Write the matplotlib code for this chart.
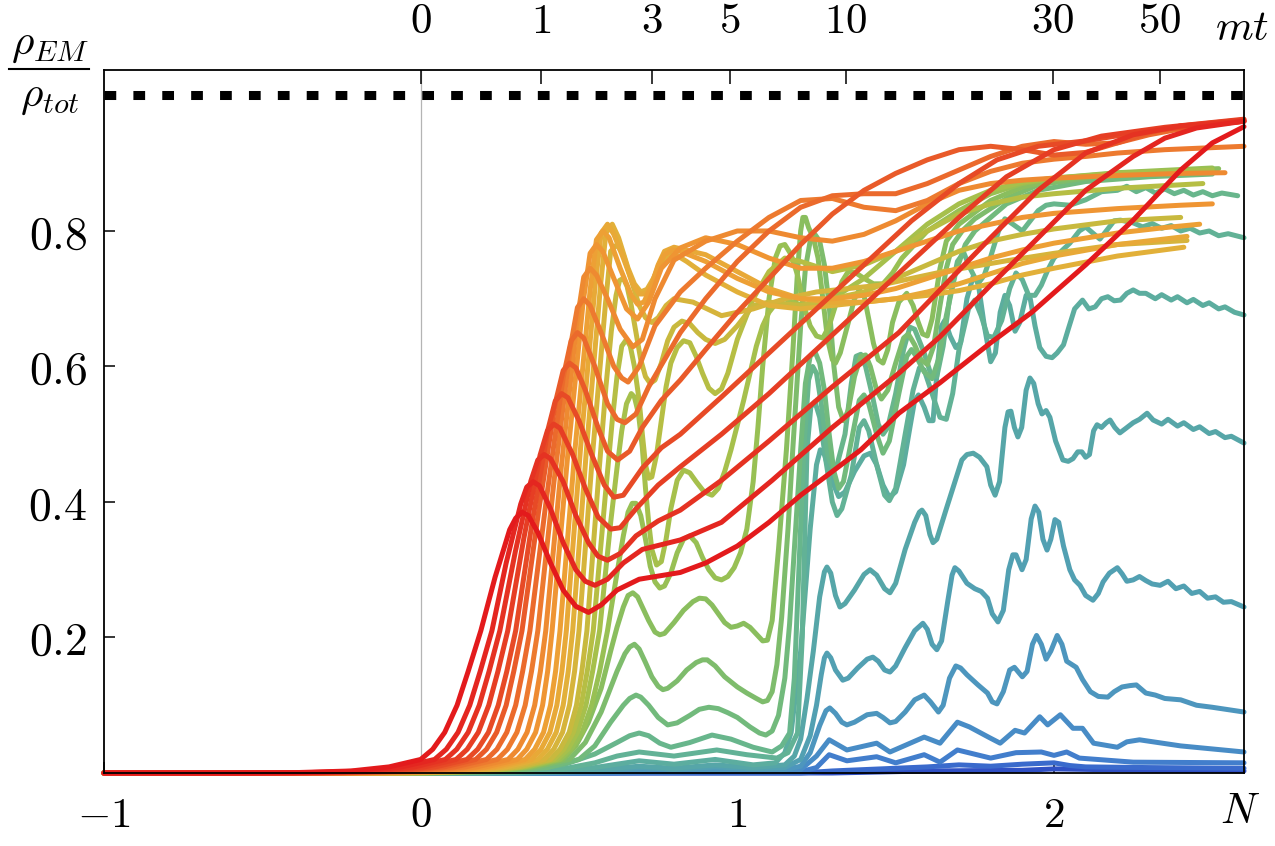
import matplotlib
matplotlib.use("Agg")
import matplotlib.pyplot as plt
import numpy as np
from matplotlib.lines import Line2D

plt.rcParams['mathtext.fontset'] = 'cm'
plt.rcParams['font.family'] = ['DejaVu Serif']

# ---------------- data (N, rho_EM/rho_tot) ----------------
r1 = [(-1.0,0),(-0.6,0),(-0.4,0.0005),(-0.22,0.003),(-0.1,0.009),(0.0,0.02),(0.038,0.035),(0.076,0.06),(0.115,0.10),(0.15,0.15),(0.19,0.21),(0.235,0.289),(0.281,0.359),(0.30,0.376),(0.32,0.385),(0.34,0.38),(0.37,0.355),(0.41,0.31),(0.45,0.27),(0.49,0.246),(0.53,0.237),(0.57,0.248),(0.62,0.27),(0.69,0.286),(0.82,0.296),(0.9,0.31),(1.0,0.335),(1.1,0.37),(1.2,0.41),(1.3,0.445),(1.39,0.477),(1.51,0.531),(1.64,0.576),(1.8,0.635),(1.93,0.68),(2.1,0.75),(2.25,0.816),(2.4,0.89),(2.5,0.93),(2.6,0.954)]
r2 = [(-1.0,0),(-0.6,0),(-0.36,0.0005),(-0.18,0.003),(-0.06,0.009),(0.044,0.02),(0.081,0.035),(0.118,0.06),(0.155,0.10),(0.188,0.15),(0.225,0.21),(0.27,0.31),(0.316,0.397),(0.335,0.422),(0.355,0.43),(0.375,0.424),(0.41,0.39),(0.45,0.34),(0.49,0.30),(0.52,0.283),(0.55,0.277),(0.59,0.286),(0.64,0.31),(0.7,0.33),(0.82,0.344),(0.95,0.37),(1.11,0.432),(1.3,0.51),(1.51,0.59),(1.64,0.644),(1.8,0.72),(1.95,0.79),(2.1,0.86),(2.25,0.91),(2.35,0.937),(2.45,0.952),(2.6,0.962)]
r3 = [(-1.0,0),(-0.6,0),(-0.32,0.0005),(-0.14,0.003),(-0.02,0.009),(0.078,0.02),(0.114,0.035),(0.15,0.06),(0.185,0.10),(0.216,0.15),(0.25,0.21),(0.299,0.327),(0.348,0.431),(0.37,0.462),(0.39,0.47),(0.41,0.464),(0.45,0.43),(0.49,0.38),(0.53,0.34),(0.56,0.32),(0.59,0.314),(0.63,0.324),(0.68,0.35),(0.75,0.372),(0.82,0.388),(0.95,0.432),(1.1,0.49),(1.3,0.57),(1.51,0.65),(1.64,0.713),(1.8,0.79),(1.95,0.86),(2.1,0.915),(2.25,0.942),(2.4,0.955),(2.6,0.962)]
r4 = [(-1.0,0),(-0.5,0),(-0.29,0.0005),(-0.11,0.003),(0.012,0.009),(0.112,0.02),(0.147,0.035),(0.182,0.06),(0.215,0.10),(0.244,0.15),(0.275,0.21),(0.326,0.347),(0.377,0.469),(0.40,0.505),(0.42,0.515),(0.44,0.509),(0.48,0.47),(0.52,0.42),(0.56,0.378),(0.6,0.36),(0.63,0.362),(0.68,0.39),(0.75,0.425),(0.82,0.452),(0.95,0.50),(1.1,0.56),(1.25,0.625),(1.4,0.69),(1.55,0.755),(1.7,0.82),(1.85,0.88),(2.0,0.92),(2.15,0.94),(2.35,0.953),(2.6,0.965)]
r5 = [(-1.0,0),(-0.5,0),(-0.25,0.0005),(-0.07,0.003),(0.046,0.009),(0.146,0.02),(0.18,0.035),(0.214,0.06),(0.245,0.10),(0.272,0.15),(0.30,0.21),(0.351,0.367),(0.402,0.507),(0.425,0.549),(0.445,0.56),(0.465,0.554),(0.5,0.52),(0.54,0.47),(0.58,0.425),(0.61,0.407),(0.64,0.41),(0.7,0.45),(0.76,0.48),(0.82,0.50),(0.95,0.555),(1.1,0.62),(1.25,0.685),(1.4,0.75),(1.55,0.815),(1.7,0.87),(1.82,0.905),(1.95,0.925),(2.1,0.933),(2.3,0.948),(2.6,0.962)]
o6 = [(-1.0,0),(-0.5,0),(-0.22,0.0005),(-0.05,0.003),(0.074,0.009),(0.174,0.02),(0.208,0.035),(0.24,0.06),(0.27,0.10),(0.294,0.15),(0.32,0.21),(0.373,0.388),(0.425,0.546),(0.45,0.594),(0.47,0.605),(0.49,0.598),(0.52,0.565),(0.56,0.51),(0.59,0.475),(0.622,0.462),(0.66,0.475),(0.7,0.51),(0.76,0.55),(0.82,0.58),(0.9,0.625),(1.0,0.68),(1.1,0.73),(1.2,0.78),(1.3,0.825),(1.4,0.86),(1.5,0.885),(1.6,0.905),(1.7,0.92),(1.8,0.925),(1.9,0.92),(2.0,0.912),(2.1,0.916),(2.2,0.93),(2.3,0.945),(2.4,0.955),(2.6,0.964)]
o7 = [(-1.0,0),(-0.4,0),(-0.2,0.0005),(-0.02,0.003),(0.108,0.009),(0.208,0.02),(0.241,0.035),(0.272,0.06),(0.30,0.10),(0.322,0.15),(0.345,0.21),(0.398,0.408),(0.45,0.584),(0.475,0.638),(0.495,0.65),(0.515,0.642),(0.55,0.6),(0.59,0.545),(0.62,0.522),(0.645,0.517),(0.68,0.53),(0.72,0.57),(0.82,0.65),(0.9,0.70),(1.0,0.755),(1.1,0.8),(1.2,0.835),(1.3,0.852),(1.4,0.855),(1.5,0.855),(1.6,0.87),(1.7,0.89),(1.8,0.91),(1.9,0.925),(2.0,0.932),(2.1,0.928),(2.2,0.93),(2.3,0.942),(2.45,0.955),(2.6,0.962)]
o8 = [(-1.0,0),(-0.4,0),(-0.16,0.0005),(0.02,0.003),(0.142,0.009),(0.242,0.02),(0.274,0.035),(0.304,0.06),(0.33,0.10),(0.35,0.15),(0.37,0.21),(0.421,0.43),(0.472,0.627),(0.495,0.687),(0.515,0.70),(0.535,0.69),(0.57,0.65),(0.61,0.6),(0.635,0.583),(0.655,0.577),(0.69,0.6),(0.74,0.66),(0.82,0.71),(0.9,0.745),(1.0,0.785),(1.1,0.82),(1.2,0.845),(1.3,0.848),(1.4,0.835),(1.5,0.83),(1.6,0.845),(1.7,0.87),(1.8,0.888),(1.9,0.9),(2.0,0.906),(2.1,0.91),(2.2,0.915),(2.35,0.92),(2.6,0.925)]
o9 = [(-1.0,0),(-0.3,0),(-0.12,0.0005),(0.06,0.003),(0.176,0.009),(0.276,0.02),(0.307,0.035),(0.336,0.06),(0.36,0.10),(0.378,0.15),(0.395,0.21),(0.444,0.451),(0.493,0.665),(0.515,0.732),(0.535,0.745),(0.555,0.735),(0.59,0.70),(0.63,0.655),(0.67,0.629),(0.7,0.64),(0.74,0.7),(0.8,0.757),(0.9,0.785),(1.0,0.80),(1.1,0.80),(1.2,0.79),(1.3,0.785),(1.4,0.795),(1.5,0.815),(1.6,0.84),(1.7,0.86),(1.8,0.87),(1.9,0.875),(2.0,0.878),(2.2,0.882),(2.4,0.885),(2.54,0.886)]
o10 = [(-1.0,0),(-0.3,0),(-0.09,0.0005),(0.09,0.003),(0.205,0.009),(0.305,0.02),(0.335,0.035),(0.363,0.06),(0.385,0.10),(0.401,0.15),(0.415,0.21),(0.464,0.467),(0.513,0.695),(0.535,0.767),(0.555,0.78),(0.575,0.77),(0.61,0.73),(0.65,0.685),(0.685,0.67),(0.72,0.695),(0.76,0.745),(0.82,0.775),(0.9,0.79),(1.0,0.78),(1.1,0.76),(1.2,0.745),(1.3,0.745),(1.4,0.755),(1.5,0.77),(1.6,0.785),(1.7,0.8),(1.8,0.81),(1.9,0.82),(2.0,0.826),(2.2,0.833),(2.4,0.838),(2.5,0.84)]
y11 = [(-1.0,0),(-0.3,0),(-0.07,0.0005),(0.11,0.003),(0.23,0.009),(0.33,0.02),(0.36,0.035),(0.388,0.06),(0.41,0.10),(0.426,0.15),(0.44,0.21),(0.487,0.476),(0.535,0.712),(0.555,0.787),(0.575,0.80),(0.595,0.79),(0.63,0.745),(0.665,0.705),(0.685,0.692),(0.705,0.695),(0.73,0.72),(0.75,0.748),(0.77,0.765),(0.795,0.772),(0.82,0.77),(0.9,0.755),(1.0,0.73),(1.1,0.71),(1.2,0.70),(1.3,0.70),(1.4,0.705),(1.5,0.715),(1.6,0.73),(1.7,0.745),(1.8,0.76),(1.9,0.772),(2.0,0.782),(2.2,0.797),(2.35,0.805),(2.46,0.81)]
y12 = [(-1.0,0),(-0.3,0),(-0.05,0.0005),(0.13,0.003),(0.25,0.009),(0.35,0.02),(0.38,0.035),(0.408,0.06),(0.43,0.10),(0.446,0.15),(0.46,0.21),(0.505,0.48),(0.551,0.72),(0.57,0.797),(0.59,0.81),(0.61,0.795),(0.64,0.76),(0.67,0.722),(0.69,0.707),(0.71,0.707),(0.73,0.722),(0.75,0.75),(0.77,0.77),(0.8,0.776),(0.9,0.765),(1.0,0.74),(1.1,0.715),(1.2,0.70),(1.3,0.695),(1.4,0.695),(1.5,0.70),(1.6,0.71),(1.7,0.722),(1.8,0.737),(1.9,0.752),(2.0,0.763),(2.2,0.78),(2.42,0.792)]
y13 = [(-1.0,0),(-0.3,0),(-0.03,0.0005),(0.15,0.003),(0.27,0.009),(0.37,0.02),(0.40,0.035),(0.428,0.06),(0.45,0.10),(0.466,0.15),(0.48,0.21),(0.524,0.48),(0.568,0.72),(0.585,0.797),(0.605,0.81),(0.625,0.79),(0.655,0.745),(0.675,0.722),(0.695,0.71),(0.715,0.714),(0.735,0.73),(0.755,0.75),(0.78,0.765),(0.805,0.765),(0.84,0.755),(0.9,0.735),(1.0,0.71),(1.1,0.69),(1.2,0.685),(1.3,0.69),(1.4,0.695),(1.5,0.70),(1.6,0.705),(1.7,0.712),(1.8,0.722),(1.9,0.735),(2.0,0.745),(2.2,0.763),(2.41,0.776)]
y14 = [(-1.0,0),(-0.3,0),(-0.01,0.0005),(0.17,0.003),(0.29,0.009),(0.39,0.02),(0.42,0.035),(0.448,0.06),(0.47,0.10),(0.486,0.15),(0.50,0.21),(0.542,0.466),(0.584,0.695),(0.60,0.77),(0.62,0.78),(0.64,0.765),(0.67,0.72),(0.69,0.69),(0.71,0.672),(0.73,0.665),(0.75,0.672),(0.775,0.69),(0.8,0.70),(0.86,0.695),(0.95,0.675),(1.05,0.685),(1.15,0.70),(1.25,0.71),(1.35,0.715),(1.45,0.72),(1.55,0.73),(1.65,0.74),(1.75,0.748),(1.85,0.756),(2.0,0.767),(2.2,0.78),(2.42,0.786)]
yg15 = [(-1.0,0),(-0.3,0),(0.01,0.0005),(0.19,0.003),(0.31,0.009),(0.41,0.02),(0.44,0.035),(0.469,0.06),(0.492,0.10),(0.509,0.15),(0.525,0.21),(0.563,0.444),(0.585,0.57),(0.602,0.652),(0.617,0.705),(0.628,0.727),(0.64,0.73),(0.652,0.718),(0.665,0.69),(0.68,0.65),(0.695,0.61),(0.71,0.585),(0.725,0.575),(0.74,0.58),(0.76,0.605),(0.78,0.638),(0.8,0.658),(0.825,0.667),(0.85,0.663),(0.875,0.65),(0.9,0.64),(0.93,0.634),(0.96,0.64),(1.0,0.66),(1.05,0.69),(1.1,0.695),(1.2,0.69),(1.3,0.70),(1.4,0.71),(1.5,0.73),(1.6,0.75),(1.7,0.77),(1.8,0.785),(1.9,0.795),(2.0,0.803),(2.2,0.815),(2.4,0.82)]
yg16 = [(-1.0,0),(-0.3,0),(0.02,0.0005),(0.2,0.003),(0.32,0.009),(0.42,0.02),(0.452,0.035),(0.482,0.06),(0.507,0.10),(0.526,0.15),(0.545,0.21),(0.582,0.404),(0.605,0.52),(0.62,0.585),(0.635,0.63),(0.65,0.64),(0.662,0.63),(0.675,0.6),(0.69,0.55),(0.70,0.50),(0.71,0.455),(0.72,0.435),(0.73,0.437),(0.745,0.47),(0.76,0.52),(0.775,0.57),(0.79,0.605),(0.81,0.628),(0.83,0.638),(0.85,0.635),(0.87,0.615),(0.89,0.59),(0.91,0.568),(0.93,0.56),(0.95,0.567),(0.97,0.59),(1.0,0.64),(1.05,0.70),(1.1,0.74),(1.15,0.76),(1.2,0.755),(1.3,0.74),(1.4,0.75),(1.5,0.77),(1.6,0.80),(1.7,0.825),(1.8,0.84),(1.9,0.85),(2.0,0.855),(2.2,0.863),(2.47,0.87)]
yg17 = [(-1.0,0),(-0.2,0),(0.03,0.0005),(0.21,0.003),(0.33,0.009),(0.43,0.02),(0.465,0.035),(0.495,0.06),(0.522,0.10),(0.543,0.15),(0.565,0.21),(0.6,0.37),(0.62,0.45),(0.635,0.505),(0.65,0.545),(0.665,0.56),(0.675,0.555),(0.688,0.53),(0.70,0.48),(0.71,0.42),(0.72,0.37),(0.73,0.33),(0.745,0.307),(0.76,0.312),(0.775,0.345),(0.79,0.39),(0.81,0.432),(0.83,0.447),(0.85,0.443),(0.87,0.43),(0.895,0.415),(0.92,0.41),(0.94,0.42),(0.96,0.445),(0.98,0.477),(1.02,0.55),(1.06,0.63),(1.08,0.66),(1.1,0.68),(1.125,0.695),(1.15,0.70),(1.185,0.693),(1.22,0.69),(1.26,0.693),(1.3,0.70),(1.4,0.73),(1.5,0.77),(1.6,0.81),(1.7,0.84),(1.8,0.86),(1.9,0.872),(2.0,0.878),(2.2,0.885),(2.5,0.89)]
yg18 = [(-1.0,0),(-0.2,0),(0.04,0.0005),(0.22,0.003),(0.34,0.009),(0.44,0.02),(0.475,0.035),(0.51,0.06),(0.54,0.10),(0.565,0.15),(0.59,0.21),(0.62,0.295),(0.64,0.35),(0.655,0.385),(0.668,0.398),(0.68,0.398),(0.695,0.38),(0.71,0.345),(0.725,0.305),(0.74,0.282),(0.755,0.273),(0.77,0.276),(0.79,0.295),(0.81,0.325),(0.83,0.345),(0.85,0.35),(0.87,0.34),(0.89,0.318),(0.91,0.30),(0.93,0.288),(0.95,0.285),(0.97,0.29),(0.99,0.303),(1.01,0.325),(1.03,0.36),(1.05,0.43),(1.065,0.51),(1.08,0.6),(1.1,0.7),(1.12,0.76),(1.135,0.778),(1.15,0.78),(1.17,0.765),(1.19,0.735),(1.21,0.69),(1.23,0.66),(1.25,0.645),(1.27,0.642),(1.29,0.66),(1.31,0.69),(1.33,0.725),(1.35,0.74),(1.375,0.738),(1.4,0.73),(1.43,0.722),(1.46,0.722),(1.49,0.738),(1.52,0.76),(1.6,0.80),(1.7,0.83),(1.8,0.855),(1.9,0.87),(2.0,0.878),(2.2,0.886),(2.5,0.893)]
g19 = [(-1.0,0),(-0.2,0),(0.06,0.0005),(0.24,0.003),(0.35,0.009),(0.45,0.02),(0.49,0.04),(0.53,0.075),(0.57,0.125),(0.6,0.18),(0.62,0.215),(0.64,0.245),(0.655,0.262),(0.67,0.266),(0.685,0.26),(0.70,0.245),(0.72,0.225),(0.74,0.208),(0.755,0.204),(0.77,0.206),(0.8,0.222),(0.83,0.24),(0.86,0.253),(0.88,0.258),(0.9,0.257),(0.92,0.248),(0.94,0.235),(0.96,0.222),(0.98,0.215),(1.0,0.217),(1.02,0.221),(1.04,0.215),(1.06,0.205),(1.08,0.195),(1.095,0.196),(1.11,0.225),(1.13,0.33),(1.155,0.477),(1.175,0.62),(1.19,0.74),(1.2,0.80),(1.207,0.82),(1.215,0.82),(1.225,0.805),(1.24,0.79),(1.255,0.76),(1.27,0.70),(1.285,0.64),(1.3,0.61),(1.31,0.605),(1.325,0.62),(1.35,0.664),(1.37,0.70),(1.385,0.713),(1.4,0.705),(1.415,0.67),(1.43,0.634),(1.445,0.61),(1.46,0.605),(1.475,0.625),(1.49,0.665),(1.51,0.695),(1.535,0.708),(1.555,0.69),(1.57,0.667),(1.585,0.648),(1.6,0.645),(1.615,0.67),(1.64,0.745),(1.66,0.785),(1.7,0.81),(1.8,0.845),(1.9,0.865),(2.0,0.875),(2.2,0.885),(2.52,0.892)]
g20 = [(-1.0,0),(-0.2,0),(0.08,0.0005),(0.26,0.003),(0.37,0.009),(0.47,0.02),(0.52,0.045),(0.57,0.09),(0.62,0.15),(0.645,0.176),(0.66,0.186),(0.675,0.19),(0.69,0.183),(0.71,0.163),(0.73,0.142),(0.75,0.128),(0.765,0.123),(0.78,0.125),(0.81,0.136),(0.84,0.152),(0.87,0.163),(0.89,0.167),(0.905,0.167),(0.93,0.158),(0.96,0.142),(1.0,0.127),(1.03,0.118),(1.06,0.11),(1.08,0.105),(1.095,0.107),(1.11,0.12),(1.125,0.16),(1.14,0.23),(1.16,0.36),(1.175,0.477),(1.2,0.66),(1.215,0.745),(1.23,0.785),(1.245,0.795),(1.26,0.785),(1.275,0.75),(1.29,0.69),(1.305,0.6),(1.32,0.54),(1.335,0.52),(1.35,0.535),(1.37,0.585),(1.39,0.615),(1.405,0.617),(1.42,0.6),(1.44,0.565),(1.455,0.552),(1.475,0.565),(1.5,0.605),(1.525,0.642),(1.54,0.648),(1.56,0.632),(1.58,0.61),(1.6,0.603),(1.62,0.63),(1.64,0.69),(1.66,0.745),(1.68,0.78),(1.71,0.80),(1.75,0.818),(1.85,0.848),(1.95,0.868),(2.1,0.878),(2.3,0.885),(2.5,0.888)]
g21 = [(-1.0,0),(-0.2,0),(0.1,0.0005),(0.28,0.003),(0.4,0.008),(0.5,0.02),(0.55,0.04),(0.6,0.075),(0.64,0.1),(0.66,0.11),(0.68,0.115),(0.695,0.112),(0.72,0.1),(0.75,0.082),(0.78,0.071),(0.81,0.074),(0.85,0.085),(0.88,0.094),(0.91,0.097),(0.94,0.095),(0.97,0.089),(1.0,0.082),(1.04,0.068),(1.07,0.059),(1.09,0.056),(1.11,0.062),(1.13,0.085),(1.15,0.14),(1.165,0.22),(1.18,0.33),(1.2,0.477),(1.215,0.575),(1.23,0.615),(1.245,0.622),(1.26,0.605),(1.275,0.565),(1.29,0.5),(1.305,0.445),(1.32,0.42),(1.335,0.43),(1.36,0.49),(1.385,0.55),(1.4,0.558),(1.415,0.545),(1.44,0.5),(1.46,0.472),(1.48,0.49),(1.51,0.56),(1.535,0.615),(1.55,0.625),(1.565,0.615),(1.59,0.592),(1.615,0.582),(1.635,0.61),(1.66,0.675),(1.69,0.74),(1.72,0.78),(1.75,0.80),(1.85,0.84),(1.95,0.86),(2.1,0.873),(2.3,0.88),(2.5,0.884)]
t1 = [(-1.0,0),(0.0,0),(0.2,0.001),(0.35,0.005),(0.45,0.012),(0.55,0.028),(0.62,0.045),(0.66,0.055),(0.69,0.059),(0.72,0.055),(0.755,0.044),(0.79,0.038),(0.85,0.045),(0.92,0.056),(0.98,0.05),(1.05,0.038),(1.11,0.031),(1.14,0.04),(1.165,0.059),(1.18,0.14),(1.19,0.25),(1.21,0.477),(1.225,0.58),(1.238,0.6),(1.25,0.59),(1.265,0.545),(1.285,0.47),(1.3,0.45),(1.315,0.455),(1.34,0.5),(1.36,0.575),(1.375,0.615),(1.39,0.618),(1.405,0.6),(1.425,0.56),(1.445,0.515),(1.46,0.5),(1.475,0.51),(1.5,0.56),(1.525,0.625),(1.545,0.658),(1.56,0.655),(1.59,0.62),(1.61,0.59),(1.63,0.585),(1.65,0.63),(1.67,0.7),(1.695,0.755),(1.715,0.768),(1.735,0.745),(1.76,0.722),(1.78,0.735),(1.8,0.762),(1.825,0.8),(1.845,0.818),(1.87,0.81),(1.9,0.80),(1.925,0.815),(1.95,0.83),(1.975,0.838),(2.0,0.84),(2.05,0.838),(2.1,0.846),(2.15,0.858),(2.2,0.86),(2.23,0.866),(2.26,0.858),(2.29,0.864),(2.32,0.856),(2.35,0.862),(2.38,0.855),(2.41,0.86),(2.44,0.853),(2.47,0.858),(2.5,0.852),(2.53,0.856),(2.58,0.852)]
t2 = [(-1.0,0),(0.1,0),(0.3,0.001),(0.45,0.006),(0.55,0.015),(0.62,0.025),(0.69,0.031),(0.8,0.025),(0.935,0.034),(1.03,0.027),(1.125,0.022),(1.16,0.03),(1.19,0.059),(1.205,0.2),(1.22,0.477),(1.232,0.54),(1.245,0.548),(1.26,0.525),(1.28,0.46),(1.3,0.4),(1.315,0.38),(1.33,0.39),(1.36,0.44),(1.385,0.51),(1.4,0.52),(1.415,0.505),(1.44,0.455),(1.465,0.41),(1.48,0.402),(1.5,0.42),(1.53,0.5),(1.555,0.565),(1.575,0.598),(1.59,0.595),(1.615,0.56),(1.64,0.525),(1.66,0.522),(1.68,0.56),(1.7,0.625),(1.73,0.685),(1.75,0.698),(1.77,0.675),(1.79,0.645),(1.81,0.643),(1.835,0.668),(1.86,0.715),(1.88,0.738),(1.9,0.728),(1.92,0.705),(1.94,0.705),(1.96,0.72),(1.98,0.742),(2.0,0.76),(2.05,0.782),(2.08,0.8),(2.1,0.806),(2.12,0.798),(2.145,0.788),(2.165,0.8),(2.19,0.815),(2.21,0.816),(2.25,0.812),(2.28,0.806),(2.31,0.811),(2.34,0.804),(2.37,0.808),(2.4,0.8),(2.43,0.804),(2.46,0.797),(2.49,0.8),(2.52,0.793),(2.55,0.796),(2.6,0.79)]
t3 = [(-1.0,0),(0.2,0),(0.4,0.003),(0.55,0.008),(0.69,0.018),(0.8,0.013),(0.93,0.02),(1.05,0.012),(1.12,0.015),(1.15,0.03),(1.17,0.06),(1.2,0.18),(1.23,0.36),(1.25,0.455),(1.262,0.477),(1.275,0.47),(1.3,0.43),(1.32,0.408),(1.34,0.415),(1.37,0.445),(1.4,0.468),(1.42,0.472),(1.44,0.455),(1.46,0.425),(1.48,0.407),(1.5,0.415),(1.525,0.455),(1.545,0.51),(1.56,0.55),(1.572,0.558),(1.59,0.54),(1.605,0.52),(1.618,0.52),(1.632,0.6),(1.645,0.66),(1.655,0.668),(1.672,0.645),(1.69,0.628),(1.705,0.635),(1.725,0.70),(1.745,0.733),(1.76,0.725),(1.78,0.66),(1.80,0.607),(1.815,0.62),(1.83,0.68),(1.845,0.705),(1.86,0.69),(1.877,0.652),(1.892,0.665),(1.912,0.705),(1.925,0.70),(1.94,0.66),(1.955,0.628),(1.975,0.615),(1.994,0.613),(2.01,0.62),(2.03,0.632),(2.045,0.655),(2.065,0.685),(2.09,0.698),(2.11,0.685),(2.13,0.688),(2.15,0.70),(2.17,0.703),(2.19,0.697),(2.21,0.698),(2.23,0.708),(2.25,0.713),(2.27,0.708),(2.29,0.708),(2.32,0.70),(2.34,0.706),(2.37,0.698),(2.39,0.703),(2.42,0.694),(2.44,0.699),(2.47,0.69),(2.49,0.694),(2.52,0.685),(2.54,0.688),(2.57,0.68),(2.6,0.676)]
t4 = [(-1.0,0),(0.3,0),(0.5,0.003),(0.69,0.01),(0.8,0.007),(0.93,0.012),(1.05,0.008),(1.15,0.012),(1.18,0.025),(1.2,0.05),(1.22,0.11),(1.24,0.18),(1.26,0.26),(1.275,0.297),(1.283,0.304),(1.295,0.295),(1.31,0.262),(1.324,0.245),(1.34,0.25),(1.37,0.27),(1.40,0.293),(1.419,0.30),(1.44,0.292),(1.465,0.272),(1.482,0.266),(1.50,0.28),(1.53,0.33),(1.56,0.37),(1.575,0.385),(1.583,0.388),(1.595,0.38),(1.608,0.352),(1.618,0.34),(1.63,0.345),(1.66,0.39),(1.709,0.462),(1.725,0.47),(1.745,0.472),(1.765,0.466),(1.788,0.452),(1.80,0.425),(1.814,0.41),(1.828,0.43),(1.845,0.51),(1.855,0.533),(1.864,0.534),(1.875,0.51),(1.886,0.496),(1.898,0.51),(1.912,0.565),(1.924,0.583),(1.936,0.575),(1.95,0.545),(1.962,0.53),(1.975,0.535),(1.987,0.525),(2.005,0.49),(2.028,0.462),(2.045,0.46),(2.06,0.464),(2.075,0.474),(2.088,0.474),(2.1,0.466),(2.112,0.47),(2.125,0.505),(2.136,0.514),(2.15,0.51),(2.165,0.517),(2.177,0.521),(2.192,0.51),(2.208,0.502),(2.225,0.508),(2.25,0.517),(2.27,0.522),(2.294,0.531),(2.313,0.521),(2.34,0.515),(2.36,0.522),(2.39,0.512),(2.41,0.517),(2.44,0.507),(2.46,0.511),(2.49,0.501),(2.51,0.504),(2.54,0.495),(2.56,0.497),(2.6,0.487)]
t5 = [(-1.0,0),(0.35,0),(0.55,0.003),(0.7,0.008),(0.8,0.005),(0.93,0.009),(1.05,0.006),(1.15,0.008),(1.2,0.02),(1.23,0.055),(1.25,0.1),(1.265,0.145),(1.275,0.17),(1.283,0.177),(1.295,0.17),(1.31,0.152),(1.333,0.137),(1.35,0.14),(1.38,0.155),(1.41,0.168),(1.428,0.171),(1.445,0.165),(1.465,0.152),(1.482,0.149),(1.5,0.158),(1.53,0.185),(1.56,0.21),(1.586,0.221),(1.6,0.212),(1.615,0.19),(1.63,0.182),(1.645,0.195),(1.665,0.255),(1.678,0.292),(1.687,0.303),(1.7,0.298),(1.725,0.28),(1.75,0.272),(1.77,0.268),(1.79,0.258),(1.805,0.235),(1.823,0.223),(1.84,0.24),(1.857,0.30),(1.87,0.322),(1.88,0.322),(1.899,0.30),(1.912,0.315),(1.928,0.375),(1.94,0.394),(1.952,0.385),(1.965,0.345),(1.978,0.329),(1.99,0.345),(2.003,0.374),(2.015,0.37),(2.03,0.335),(2.05,0.30),(2.065,0.285),(2.082,0.277),(2.1,0.262),(2.123,0.255),(2.14,0.265),(2.155,0.282),(2.175,0.295),(2.2,0.303),(2.215,0.294),(2.23,0.283),(2.25,0.285),(2.27,0.29),(2.29,0.284),(2.31,0.279),(2.335,0.277),(2.36,0.283),(2.385,0.272),(2.41,0.276),(2.435,0.265),(2.46,0.268),(2.485,0.258),(2.51,0.26),(2.535,0.252),(2.56,0.253),(2.6,0.245)]
t6 = [(-1.0,0),(0.4,0),(0.6,0.003),(0.75,0.006),(0.9,0.005),(1.05,0.004),(1.15,0.005),(1.2,0.01),(1.23,0.03),(1.26,0.07),(1.28,0.092),(1.292,0.096),(1.31,0.088),(1.33,0.075),(1.346,0.071),(1.37,0.075),(1.41,0.086),(1.44,0.088),(1.46,0.082),(1.482,0.074),(1.5,0.076),(1.53,0.09),(1.56,0.108),(1.59,0.115),(1.61,0.105),(1.635,0.09),(1.65,0.10),(1.67,0.14),(1.69,0.158),(1.705,0.155),(1.725,0.145),(1.76,0.13),(1.79,0.118),(1.805,0.105),(1.82,0.102),(1.84,0.12),(1.86,0.152),(1.875,0.156),(1.9,0.142),(1.915,0.15),(1.932,0.19),(1.945,0.203),(1.96,0.19),(1.975,0.168),(1.99,0.18),(2.01,0.203),(2.025,0.19),(2.04,0.165),(2.07,0.156),(2.09,0.138),(2.115,0.12),(2.14,0.113),(2.17,0.112),(2.19,0.12),(2.215,0.127),(2.24,0.129),(2.26,0.13),(2.29,0.118),(2.32,0.115),(2.35,0.11),(2.4,0.108),(2.45,0.1),(2.5,0.097),(2.6,0.09)]
t7 = [(-1.0,0),(0.5,0),(0.7,0.002),(0.9,0.003),(1.1,0.003),(1.2,0.005),(1.25,0.025),(1.29,0.049),(1.346,0.034),(1.44,0.044),(1.482,0.031),(1.59,0.053),(1.64,0.044),(1.695,0.075),(1.733,0.068),(1.797,0.052),(1.83,0.044),(1.877,0.063),(1.907,0.059),(1.955,0.083),(1.98,0.071),(2.02,0.086),(2.06,0.066),(2.09,0.066),(2.125,0.044),(2.2,0.038),(2.23,0.046),(2.27,0.049),(2.4,0.04),(2.6,0.031)]
t8 = [(-1.0,0),(0.6,0),(0.9,0.002),(1.2,0.002),(1.25,0.008),(1.29,0.027),(1.346,0.018),(1.44,0.024),(1.5,0.015),(1.59,0.027),(1.64,0.016),(1.695,0.034),(1.8,0.022),(1.88,0.03),(1.96,0.031),(2.0,0.026),(2.04,0.031),(2.08,0.022),(2.25,0.016),(2.6,0.015)]
b1 = [(-1.0,0),(1.2,0),(1.3,0.003),(1.45,0.006),(1.6,0.009),(1.7,0.012),(1.8,0.01),(1.9,0.013),(2.0,0.015),(2.05,0.011),(2.1,0.009),(2.3,0.008),(2.6,0.007)]
b2 = [(-1.0,0),(1.3,0),(1.6,0.003),(1.9,0.004),(2.0,0.006),(2.3,0.004),(2.6,0.003)]

curves = [r1, r2, r3, r4, r5, o6, o7, o8, o9, o10, y11, y12, y13, y14,
          yg15, yg16, yg17, yg18, g19, g20, g21, t1, t2, t3, t4, t5, t6, t7, t8, b1, b2]

curve_colors = ['#e31a1c','#e42620','#e53222','#e63e24','#e74a26','#e95a29','#eb6a2c','#ed7a2f',
                '#ee8a31','#ef9533','#eda035','#e8a937','#e2b039','#d6b43b','#c8b93e','#b6be44',
                '#a6c04c','#98c054','#8abe5e','#7ebc6c','#72ba7c','#68b68c','#62b296','#5cad9f',
                '#56a6a8','#52a0b2','#4d96be','#488cc6','#427ecc','#3a6acc','#3050c4']

# top axis: m t values and their positions in N
mt_values = ['0', '1', '3', '5', '10', '30', '50']
mt_positions_N = [0.0, 0.379, 0.73, 0.976, 1.343, 1.997, 2.335]

bottom_ticks = [-1, 0, 1, 2]
bottom_labels = ['$-1$', '$0$', '$1$', '$2$']
left_ticks = [0.2, 0.4, 0.6, 0.8]
left_labels = ['$0.2$', '$0.4$', '$0.6$', '$0.8$']
total_level = 1.0

# ---------------- figure ----------------
W, H = 1275, 846
fig = plt.figure(figsize=(W/100, H/100), dpi=100)
ax = fig.add_axes([104/W, (H-773)/H, (1244-104)/W, (773-70)/H])
ax.set_xlim(-1, 2.6)
ax.set_ylim(0, 1.0376)

ax.axvline(0, color='#b4b4b4', lw=0.9, zorder=1)

for k in reversed(range(len(curves))):
    arr = np.array(curves[k])
    ax.plot(arr[:, 0], arr[:, 1], color=curve_colors[k], lw=3.6,
            solid_capstyle='round', solid_joinstyle='round', clip_on=False, zorder=2)

ax.plot([-1, 2.6], [total_level, total_level], color='k', lw=6.5,
        dashes=(1.3, 1.9), solid_capstyle='butt', dash_capstyle='butt', zorder=3)

for s in ax.spines.values():
    s.set_linewidth(1.3)
    s.set_zorder(4)

fs = 31
ax.set_xticks(bottom_ticks)
ax.set_xticklabels(bottom_labels, fontsize=fs)
ax.set_yticks(left_ticks)
ax.set_yticklabels(left_labels, fontsize=33)
ax.tick_params(axis='x', direction='in', length=8, width=1.1, pad=15)
ax.tick_params(axis='y', direction='in', length=8, width=1.1, pad=12)

ax2 = ax.twiny()
ax2.set_xlim(ax.get_xlim())
ax2.set_xticks(mt_positions_N)
ax2.set_xticklabels(['$%s$' % v for v in mt_values], fontsize=fs)
ax2.tick_params(axis='x', direction='in', length=10, width=1.1, pad=20)
for s in ax2.spines.values():
    s.set_visible(False)

fig.text(1240/W, 1 - 811/H, '$N$', fontsize=fs, ha='center', va='center')
fig.text(1242/W, 1 - 28/H, '$mt$', fontsize=fs, ha='center', va='center')
fig.text(50/W, 1 - 44/H, r'$\rho_{EM}$', fontsize=fs, ha='center', va='center')
fig.add_artist(Line2D([9/W, 89/W], [1 - 69/H, 1 - 69/H], color='k', lw=1.5))
fig.text(50/W, 1 - 96/H, r'$\rho_{tot}$', fontsize=fs, ha='center', va='center')

fig.savefig('out.png', dpi=100)
